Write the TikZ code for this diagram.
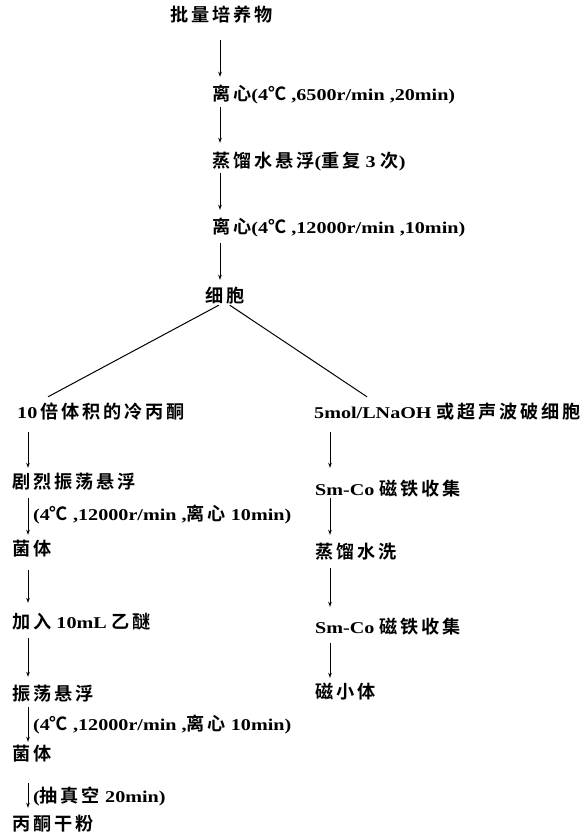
\documentclass[tikz,border=0pt]{standalone}
\usepackage{fontspec}
\setmainfont{Liberation Serif}[FakeStretch=1.22]
\newfontfamily\cjk{Noto Sans CJK SC}[UprightFont={* Bold}, BoldFont={* Bold}, LetterSpace=16, Scale=1.1]
\usetikzlibrary{arrows.meta}
\newcommand\zh[1]{{\cjk #1}}
\begin{document}
\begin{tikzpicture}[x=1pt,y=-1pt,
  txt/.style={inner sep=0pt, anchor=west, text height=13pt, text depth=3pt, font=\fontsize{16.5}{18}\selectfont\bfseries},
  arr/.style={-{Stealth[length=5pt,width=3.5pt]}, line width=1pt},
  branch/.style={line width=1pt}]
\useasboundingbox (0,0) rectangle (586,840);
\coordinate (ax) at (220,0);
\coordinate (bx) at (28,0);
\coordinate (cx) at (330,0);
% top chain
\node[txt] (n1) at (170,17) {\zh{批量培养物}};
\node[txt] (n2) at (212,96) {\zh{离心}(4\zh{℃} ,6500r/min ,20min)};
\node[txt] (n3) at (212,162) {\zh{蒸馏水悬浮}(\zh{重复} 3 \zh{次})};
\node[txt] (n4) at (212,228) {\zh{离心}(4\zh{℃} ,12000r/min ,10min)};
\node[txt] (n5) at (205,297) {\zh{细胞}};
% left column
\node[txt] (n6) at (17,413) {10\,\zh{倍体积的冷丙酮}};
\node[txt] (n7) at (12,483) {\zh{剧烈振荡悬浮}};
\node[txt] (l1) at (33,515) {(4\zh{℃} ,12000r/min ,\zh{离心} 10min)};
\node[txt] (n8) at (12,550) {\zh{菌体}};
\node[txt] (n9) at (12,623) {\zh{加入} 10mL \zh{乙醚}};
\node[txt] (n10) at (12,695) {\zh{振荡悬浮}};
\node[txt] (l2) at (33,725) {(4\zh{℃} ,12000r/min ,\zh{离心} 10min)};
\node[txt] (n11) at (12,755) {\zh{菌体}};
\node[txt] (l3) at (33,797) {(\zh{抽真空} 20min)};
\node[txt] (n12) at (12,825) {\zh{丙酮干粉}};
% right column
\node[txt] (n13) at (314,413) {5mol/LNaOH \zh{或超声波破细胞}};
\node[txt] (n14) at (315,490) {Sm-Co \zh{磁铁收集}};
\node[txt] (n15) at (315,553) {\zh{蒸馏水洗}};
\node[txt] (n16) at (315,628) {Sm-Co \zh{磁铁收集}};
\node[txt] (n17) at (315,693) {\zh{磁小体}};
% top arrows
\draw[arr, shorten <=15pt, shorten >=11pt] (n1.south -| ax) -- (n2.north -| ax);
\draw[arr, shorten <=3pt, shorten >=11pt] (n2.south -| ax) -- (n3.north -| ax);
\draw[arr, shorten <=3pt, shorten >=10pt] (n3.south -| ax) -- (n4.north -| ax);
\draw[arr, shorten <=7pt, shorten >=9pt] (n4.south -| ax) -- (n5.north -| ax);
% branches
\draw[branch] ([xshift=-6pt]n5.south) -- ([shift={(31pt,8pt)}]n6.north west);
\draw[branch] ([xshift=5pt]n5.south) -- ([shift={(53pt,8pt)}]n13.north west);
% left arrows
\draw[arr, shorten <=11pt, shorten >=7pt] (n6.south -| bx) -- (n7.north -| bx);
\draw[arr, shorten <=7pt, shorten >=7pt] (n7.south -| bx) -- (n8.north -| bx);
\draw[arr, shorten <=12pt, shorten >=12pt] (n8.south -| bx) -- (n9.north -| bx);
\draw[arr, shorten <=7pt, shorten >=10pt] (n9.south -| bx) -- (n10.north -| bx);
\draw[arr, shorten <=4pt, shorten >=5pt] (n10.south -| bx) -- (n11.north -| bx);
\draw[arr, shorten <=20pt, shorten >=9pt] (n11.south -| bx) -- (n12.north -| bx);
% right arrows
\draw[arr, shorten <=11pt, shorten >=14pt] (n13.south -| cx) -- (n14.north -| cx);
\draw[arr, shorten <=0pt, shorten >=10pt] (n14.south -| cx) -- (n15.north -| cx);
\draw[arr, shorten <=7pt, shorten >=13pt] (n15.south -| cx) -- (n16.north -| cx);
\draw[arr, shorten <=7pt, shorten >=7pt] (n16.south -| cx) -- (n17.north -| cx);
\end{tikzpicture}
\end{document}
